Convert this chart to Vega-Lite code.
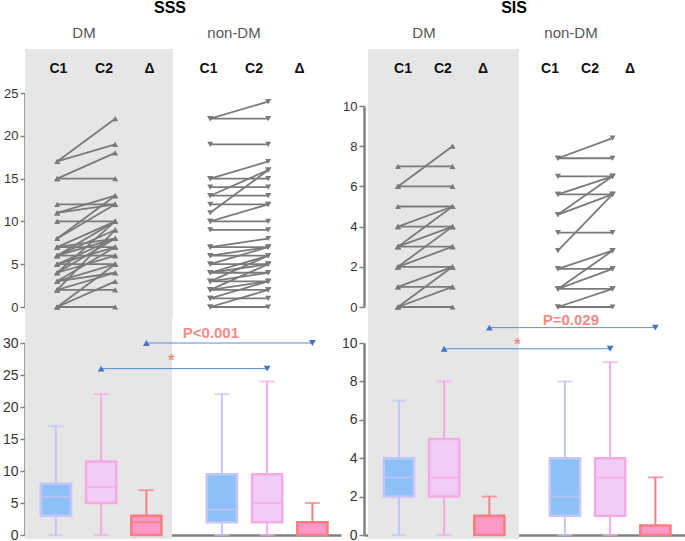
{
  "$schema": "https://vega.github.io/schema/vega-lite/v6.json",
  "padding": {"left": 2, "top": -1, "right": 0, "bottom": 0},
  "background": "white",
  "config": {
    "view": {"stroke": null},
    "axis": {"labelFont": "Liberation Sans", "labelColor": "#333333", "domainColor": "#808080", "domainWidth": 2.5, "tickColor": "#808080", "tickWidth": 1.5, "tickSize": 5, "labelPadding": 2, "grid": false, "title": null, "zindex": 1},
    "text": {"font": "Liberation Sans"}
  },
  "datasets": {
    "slope_sss": [
      {"group": "DM", "s": 1, "C1": 17, "C2": 22}, {"group": "DM", "s": 2, "C1": 17, "C2": 19}, {"group": "DM", "s": 3, "C1": 15, "C2": 18}, {"group": "DM", "s": 4, "C1": 15, "C2": 15},
      {"group": "DM", "s": 5, "C1": 12, "C2": 12}, {"group": "DM", "s": 6, "C1": 11, "C2": 13}, {"group": "DM", "s": 7, "C1": 11, "C2": 12}, {"group": "DM", "s": 8, "C1": 10, "C2": 10},
      {"group": "DM", "s": 9, "C1": 8, "C2": 13}, {"group": "DM", "s": 10, "C1": 8, "C2": 12}, {"group": "DM", "s": 11, "C1": 7, "C2": 10}, {"group": "DM", "s": 12, "C1": 7, "C2": 7},
      {"group": "DM", "s": 13, "C1": 7, "C2": 8}, {"group": "DM", "s": 14, "C1": 6, "C2": 10}, {"group": "DM", "s": 15, "C1": 6, "C2": 9}, {"group": "DM", "s": 16, "C1": 6, "C2": 6},
      {"group": "DM", "s": 17, "C1": 6, "C2": 8}, {"group": "DM", "s": 18, "C1": 5, "C2": 8}, {"group": "DM", "s": 19, "C1": 5, "C2": 7}, {"group": "DM", "s": 20, "C1": 5, "C2": 5},
      {"group": "DM", "s": 21, "C1": 4, "C2": 10}, {"group": "DM", "s": 22, "C1": 4, "C2": 8}, {"group": "DM", "s": 23, "C1": 4, "C2": 6}, {"group": "DM", "s": 24, "C1": 3, "C2": 7},
      {"group": "DM", "s": 25, "C1": 3, "C2": 5}, {"group": "DM", "s": 26, "C1": 3, "C2": 4}, {"group": "DM", "s": 27, "C1": 2, "C2": 9}, {"group": "DM", "s": 28, "C1": 2, "C2": 4},
      {"group": "DM", "s": 29, "C1": 2, "C2": 2}, {"group": "DM", "s": 30, "C1": 0, "C2": 5}, {"group": "DM", "s": 31, "C1": 0, "C2": 3}, {"group": "DM", "s": 32, "C1": 0, "C2": 0},
      {"group": "non-DM", "s": 41, "C1": 22, "C2": 24}, {"group": "non-DM", "s": 42, "C1": 22, "C2": 22}, {"group": "non-DM", "s": 43, "C1": 19, "C2": 19}, {"group": "non-DM", "s": 44, "C1": 15, "C2": 17},
      {"group": "non-DM", "s": 45, "C1": 15, "C2": 15}, {"group": "non-DM", "s": 46, "C1": 14, "C2": 14}, {"group": "non-DM", "s": 47, "C1": 13, "C2": 16}, {"group": "non-DM", "s": 48, "C1": 13, "C2": 13},
      {"group": "non-DM", "s": 49, "C1": 12, "C2": 12}, {"group": "non-DM", "s": 50, "C1": 11, "C2": 16}, {"group": "non-DM", "s": 51, "C1": 10, "C2": 12}, {"group": "non-DM", "s": 52, "C1": 10, "C2": 10},
      {"group": "non-DM", "s": 53, "C1": 9, "C2": 9}, {"group": "non-DM", "s": 54, "C1": 7, "C2": 8}, {"group": "non-DM", "s": 55, "C1": 7, "C2": 7}, {"group": "non-DM", "s": 56, "C1": 6, "C2": 7},
      {"group": "non-DM", "s": 57, "C1": 6, "C2": 6}, {"group": "non-DM", "s": 58, "C1": 5, "C2": 7}, {"group": "non-DM", "s": 59, "C1": 5, "C2": 5}, {"group": "non-DM", "s": 60, "C1": 4, "C2": 6},
      {"group": "non-DM", "s": 61, "C1": 4, "C2": 5}, {"group": "non-DM", "s": 62, "C1": 4, "C2": 4}, {"group": "non-DM", "s": 63, "C1": 3, "C2": 6}, {"group": "non-DM", "s": 64, "C1": 3, "C2": 4},
      {"group": "non-DM", "s": 65, "C1": 3, "C2": 3}, {"group": "non-DM", "s": 66, "C1": 2, "C2": 5}, {"group": "non-DM", "s": 67, "C1": 2, "C2": 3}, {"group": "non-DM", "s": 68, "C1": 2, "C2": 2},
      {"group": "non-DM", "s": 69, "C1": 1, "C2": 3}, {"group": "non-DM", "s": 70, "C1": 1, "C2": 1}, {"group": "non-DM", "s": 71, "C1": 0, "C2": 2}, {"group": "non-DM", "s": 72, "C1": 0, "C2": 0}
    ],
    "slope_sis": [
      {"group": "DM", "s": 1, "C1": 7, "C2": 7}, {"group": "DM", "s": 2, "C1": 6, "C2": 8}, {"group": "DM", "s": 3, "C1": 6, "C2": 6}, {"group": "DM", "s": 4, "C1": 5, "C2": 5},
      {"group": "DM", "s": 5, "C1": 4, "C2": 5}, {"group": "DM", "s": 6, "C1": 4, "C2": 4}, {"group": "DM", "s": 7, "C1": 3, "C2": 5}, {"group": "DM", "s": 8, "C1": 3, "C2": 4},
      {"group": "DM", "s": 9, "C1": 3, "C2": 3}, {"group": "DM", "s": 10, "C1": 2, "C2": 4}, {"group": "DM", "s": 11, "C1": 2, "C2": 3}, {"group": "DM", "s": 12, "C1": 2, "C2": 2},
      {"group": "DM", "s": 13, "C1": 1, "C2": 2}, {"group": "DM", "s": 14, "C1": 1, "C2": 1}, {"group": "DM", "s": 15, "C1": 0, "C2": 2}, {"group": "DM", "s": 16, "C1": 0, "C2": 1},
      {"group": "DM", "s": 17, "C1": 0, "C2": 0},
      {"group": "non-DM", "s": 41, "C1": 7.4, "C2": 8.4}, {"group": "non-DM", "s": 42, "C1": 7.4, "C2": 7.4}, {"group": "non-DM", "s": 43, "C1": 6.5, "C2": 6.5}, {"group": "non-DM", "s": 44, "C1": 5.6, "C2": 6.5},
      {"group": "non-DM", "s": 45, "C1": 5.6, "C2": 5.6}, {"group": "non-DM", "s": 46, "C1": 4.6, "C2": 6.5}, {"group": "non-DM", "s": 47, "C1": 4.6, "C2": 5.6}, {"group": "non-DM", "s": 48, "C1": 3.7, "C2": 3.7},
      {"group": "non-DM", "s": 49, "C1": 2.8, "C2": 5.6}, {"group": "non-DM", "s": 50, "C1": 1.9, "C2": 2.8}, {"group": "non-DM", "s": 51, "C1": 1.9, "C2": 1.9}, {"group": "non-DM", "s": 52, "C1": 0.9, "C2": 2.8},
      {"group": "non-DM", "s": 53, "C1": 0.9, "C2": 1.9}, {"group": "non-DM", "s": 54, "C1": 0.9, "C2": 0.9}, {"group": "non-DM", "s": 55, "C1": 0, "C2": 0.9}, {"group": "non-DM", "s": 56, "C1": 0, "C2": 0}
    ],
    "box_sss": [
      {"group": "DM", "time": "C1", "min": 0, "q1": 3, "median": 6, "q3": 8, "max": 17},
      {"group": "DM", "time": "C2", "min": 0, "q1": 5, "median": 7.5, "q3": 11.5, "max": 22},
      {"group": "DM", "time": "Δ", "min": 0, "q1": 0, "median": 2, "q3": 3, "max": 7},
      {"group": "non-DM", "time": "C1", "min": 0, "q1": 2, "median": 4, "q3": 9.5, "max": 22},
      {"group": "non-DM", "time": "C2", "min": 0, "q1": 2, "median": 5, "q3": 9.5, "max": 24},
      {"group": "non-DM", "time": "Δ", "min": 0, "q1": 0, "median": 0, "q3": 2, "max": 5}
    ],
    "box_sis": [
      {"group": "DM", "time": "C1", "min": 0, "q1": 2, "median": 3, "q3": 4, "max": 7},
      {"group": "DM", "time": "C2", "min": 0, "q1": 2, "median": 3, "q3": 5, "max": 8},
      {"group": "DM", "time": "Δ", "min": 0, "q1": 0, "median": 0, "q3": 1, "max": 2},
      {"group": "non-DM", "time": "C1", "min": 0, "q1": 1, "median": 2, "q3": 4, "max": 8},
      {"group": "non-DM", "time": "C2", "min": 0, "q1": 1, "median": 3, "q3": 4, "max": 9},
      {"group": "non-DM", "time": "Δ", "min": 0, "q1": 0, "median": 0, "q3": 0.5, "max": 3}
    ],
    "headers": [
      {"group": "DM", "time": "C1"}, {"group": "DM", "time": "C2"}, {"group": "DM", "time": "Δ"},
      {"group": "non-DM", "time": "C1"}, {"group": "non-DM", "time": "C2"}, {"group": "non-DM", "time": "Δ"}
    ],
    "groups": [{"group": "DM"}, {"group": "non-DM"}],
    "arrows": [
      {"cmp": "delta", "group": "DM", "time": "Δ"}, {"cmp": "delta", "group": "non-DM", "time": "Δ"},
      {"cmp": "c2", "group": "DM", "time": "C2"}, {"cmp": "c2", "group": "non-DM", "time": "C2"}
    ]
  },
  "spacing": 0,
  "hconcat": [
    {
      "bounds": "flush",
      "spacing": 36,
      "vconcat": [
        {
          "width": 316, "height": 214,
          "resolve": {"scale": {"x": "independent", "xOffset": "independent"}},
          "encoding": {"y": {"type": "quantitative", "scale": {"domain": [0, 25], "nice": false, "zero": false}}},
          "layer": [
            {
              "encoding": {"x": {"field": "group", "type": "nominal", "axis": null, "scale": {"type": "band", "domain": ["DM", "non-DM"], "paddingInner": 0.033, "paddingOuter": 0.049, "align": 0}}},
              "layer": [
                {"data": {"values": [{"group": "DM"}]}, "mark": {"type": "bar", "color": "#E6E6E6"},
                 "encoding": {"y": {"datum": -1.17, "type": "quantitative", "axis": {"values": [0, 5, 10, 15, 20, 25], "labelFontSize": 13}}, "y2": {"datum": 30.14}}},
                {"data": {"name": "slope_sss"}, "transform": [{"fold": ["C1", "C2"], "as": ["time", "value"]}],
                 "mark": {"type": "line", "color": "#7A7A7A", "strokeWidth": 1.8},
                 "encoding": {"xOffset": {"field": "time", "type": "nominal", "scale": {"type": "band", "domain": ["C1", "C2"], "paddingInner": 0, "paddingOuter": 0.276, "align": 0.1}}, "y": {"field": "value", "type": "quantitative"}, "detail": {"field": "s"}}},
                {"data": {"name": "slope_sss"}, "transform": [{"fold": ["C1", "C2"], "as": ["time", "value"]}],
                 "mark": {"type": "point", "filled": true, "color": "#7A7A7A", "opacity": 1, "size": 36},
                 "encoding": {"xOffset": {"field": "time", "type": "nominal"}, "y": {"field": "value", "type": "quantitative"},
                   "shape": {"field": "group", "type": "nominal", "scale": {"domain": ["DM", "non-DM"], "range": ["triangle-up", "triangle-down"]}, "legend": null}}},
                {"data": {"values": [{"t": "SSS"}]}, "mark": {"type": "text", "fontSize": 16, "fontWeight": "bold", "color": "#000000", "dx": -3},
                 "encoding": {"x": {"datum": "DM", "bandPosition": 1}, "y": {"datum": 34.93}, "text": {"field": "t"}}}
              ]
            },
            {
              "data": {"name": "headers"},
              "encoding": {"x": {"field": "group", "type": "nominal", "axis": null, "scale": {"type": "band", "domain": ["DM", "non-DM"], "paddingInner": 0.09, "paddingOuter": 0.098, "align": 0.364}}},
              "layer": [
                {"mark": {"type": "text", "fontSize": 14, "fontWeight": "bold", "color": "#111111"},
                 "encoding": {"xOffset": {"field": "time", "type": "nominal", "scale": {"type": "band", "domain": ["C1", "C2", "Δ"], "paddingInner": 0, "paddingOuter": 0}}, "y": {"datum": 27.8}, "text": {"field": "time"}}},
                {"data": {"name": "groups"}, "mark": {"type": "text", "fontSize": 15, "color": "#555555", "dx": -20},
                 "encoding": {"y": {"datum": 32.0}, "text": {"field": "group"}}}
              ]
            }
          ]
        },
        {
          "width": 316, "height": 192,
          "data": {"name": "box_sss"},
          "encoding": {
            "x": {"field": "group", "type": "nominal", "scale": {"type": "band", "domain": ["DM", "non-DM"], "paddingInner": 0.1145, "paddingOuter": 0.009, "align": 0}, "axis": {"labels": false, "ticks": false, "domainWidth": 2.5}},
            "y": {"type": "quantitative", "scale": {"domain": [0, 30], "nice": false, "zero": false}, "axis": {"values": [0, 5, 10, 15, 20, 25, 30], "labelFontSize": 14}}
          },
          "layer": [
            {"data": {"values": [{"group": "DM"}]}, "mark": {"type": "bar", "color": "#E6E6E6"},
             "encoding": {"y": {"datum": -0.625, "type": "quantitative"}, "y2": {"datum": 34.06}}},
            {"mark": {"type": "rule", "strokeWidth": 2},
             "encoding": {"xOffset": {"field": "time", "type": "nominal", "scale": {"type": "band", "domain": ["C1", "C2", "Δ"], "paddingInner": 0.3333, "paddingOuter": 0.291, "align": 0.6}},
               "y": {"field": "min", "type": "quantitative"}, "y2": {"field": "max"},
               "color": {"field": "time", "type": "nominal", "scale": {"domain": ["C1", "C2", "Δ"], "range": ["#C4C4F8", "#F5AAE6", "#F77E80"]}, "legend": null}}},
            {"mark": {"type": "tick", "thickness": 2, "size": 15},
             "encoding": {"xOffset": {"field": "time", "type": "nominal"}, "y": {"field": "max", "type": "quantitative"}, "color": {"field": "time", "type": "nominal", "legend": null}}},
            {"mark": {"type": "tick", "thickness": 2, "size": 15},
             "encoding": {"xOffset": {"field": "time", "type": "nominal"}, "y": {"field": "min", "type": "quantitative"}, "color": {"field": "time", "type": "nominal", "legend": null}}},
            {"mark": {"type": "bar", "strokeWidth": 2.5},
             "encoding": {"xOffset": {"field": "time", "type": "nominal"}, "y": {"field": "q1", "type": "quantitative"}, "y2": {"field": "q3"},
               "fill": {"field": "time", "type": "nominal", "scale": {"domain": ["C1", "C2", "Δ"], "range": ["#8EC0F8", "#F0CCF6", "#FA98C6"]}, "legend": null},
               "stroke": {"field": "time", "type": "nominal", "scale": {"domain": ["C1", "C2", "Δ"], "range": ["#C4C4F8", "#F5AAE6", "#F77E80"]}, "legend": null}}},
            {"mark": {"type": "tick", "thickness": 2, "size": 28},
             "encoding": {"xOffset": {"field": "time", "type": "nominal"}, "y": {"field": "median", "type": "quantitative"}, "color": {"field": "time", "type": "nominal", "legend": null}}},
            {"data": {"name": "arrows"}, "transform": [{"filter": "datum.cmp === 'delta'"}],
             "mark": {"type": "line", "color": "#5B8BD6", "strokeWidth": 1},
             "encoding": {"xOffset": {"field": "time", "type": "nominal"}, "y": {"datum": 30}}},
            {"data": {"name": "arrows"}, "transform": [{"filter": "datum.cmp === 'c2'"}],
             "mark": {"type": "line", "color": "#5B8BD6", "strokeWidth": 1},
             "encoding": {"xOffset": {"field": "time", "type": "nominal"}, "y": {"datum": 26}}},
            {"data": {"name": "arrows"}, "transform": [{"filter": "datum.cmp === 'delta'"}],
             "mark": {"type": "point", "filled": true, "color": "#4472C4", "opacity": 1, "size": 45},
             "encoding": {"xOffset": {"field": "time", "type": "nominal"}, "y": {"datum": 30},
               "shape": {"field": "group", "type": "nominal", "scale": {"domain": ["DM", "non-DM"], "range": ["triangle-left", "triangle-right"]}, "legend": null}}},
            {"data": {"name": "arrows"}, "transform": [{"filter": "datum.cmp === 'c2'"}],
             "mark": {"type": "point", "filled": true, "color": "#4472C4", "opacity": 1, "size": 45},
             "encoding": {"xOffset": {"field": "time", "type": "nominal"}, "y": {"datum": 26}, "shape": {"field": "group", "type": "nominal", "legend": null}}},
            {"data": {"values": [{"group": "non-DM", "time": "C1", "label": "P<0.001"}]},
             "mark": {"type": "text", "fontSize": 15, "fontWeight": "bold", "color": "#F48A8A", "dx": -11},
             "encoding": {"xOffset": {"field": "time", "type": "nominal"}, "y": {"datum": 31.6}, "text": {"field": "label"}}},
            {"data": {"values": [{"group": "DM", "time": "Δ", "label": "*"}]},
             "mark": {"type": "text", "fontSize": 16, "fontWeight": "bold", "color": "#F48A8A", "dx": 25, "dy": 4},
             "encoding": {"xOffset": {"field": "time", "type": "nominal"}, "y": {"datum": 27.8}, "text": {"field": "label"}}}
          ]
        }
      ]
    },
    {
      "bounds": "flush",
      "spacing": 36,
      "vconcat": [
        {
          "width": 322, "height": 214,
          "resolve": {"scale": {"x": "independent", "xOffset": "independent"}},
          "encoding": {"y": {"type": "quantitative", "scale": {"domain": [0, 10.647], "nice": false, "zero": false}}},
          "layer": [
            {
              "encoding": {"x": {"field": "group", "type": "nominal", "axis": null, "scale": {"type": "band", "domain": ["DM", "non-DM"], "paddingInner": 0.056, "paddingOuter": 0.0344, "align": 0.364}}},
              "layer": [
                {"data": {"values": [{"group": "DM"}]}, "mark": {"type": "bar", "color": "#E6E6E6"},
                 "encoding": {"y": {"datum": -0.4975, "type": "quantitative", "axis": {"values": [0, 2, 4, 6, 8, 10], "labelFontSize": 13, "domainDash": [201, 200]}}, "y2": {"datum": 12.836}}},
                {"data": {"name": "slope_sis"}, "transform": [{"fold": ["C1", "C2"], "as": ["time", "value"]}],
                 "mark": {"type": "line", "color": "#7A7A7A", "strokeWidth": 1.8},
                 "encoding": {"xOffset": {"field": "time", "type": "nominal", "scale": {"type": "band", "domain": ["C1", "C2"], "paddingInner": 0, "paddingOuter": 0.385, "align": 0.065}}, "y": {"field": "value", "type": "quantitative"}, "detail": {"field": "s"}}},
                {"data": {"name": "slope_sis"}, "transform": [{"fold": ["C1", "C2"], "as": ["time", "value"]}],
                 "mark": {"type": "point", "filled": true, "color": "#7A7A7A", "opacity": 1, "size": 36},
                 "encoding": {"xOffset": {"field": "time", "type": "nominal"}, "y": {"field": "value", "type": "quantitative"},
                   "shape": {"field": "group", "type": "nominal", "scale": {"domain": ["DM", "non-DM"], "range": ["triangle-up", "triangle-down"]}, "legend": null}}},
                {"data": {"values": [{"t": "SIS"}]}, "mark": {"type": "text", "fontSize": 16, "fontWeight": "bold", "color": "#000000", "dx": -5},
                 "encoding": {"x": {"datum": "DM", "bandPosition": 1}, "y": {"datum": 14.88}, "text": {"field": "t"}}}
              ]
            },
            {
              "data": {"name": "headers"},
              "encoding": {"x": {"field": "group", "type": "nominal", "axis": null, "scale": {"type": "band", "domain": ["DM", "non-DM"], "paddingInner": 0.184, "paddingOuter": 0.187, "align": 0.345}}},
              "layer": [
                {"mark": {"type": "text", "fontSize": 14, "fontWeight": "bold", "color": "#111111"},
                 "encoding": {"xOffset": {"field": "time", "type": "nominal", "scale": {"type": "band", "domain": ["C1", "C2", "Δ"], "paddingInner": 0, "paddingOuter": 0}}, "y": {"datum": 11.84}, "text": {"field": "time"}}},
                {"data": {"name": "groups"}, "mark": {"type": "text", "fontSize": 15, "color": "#555555", "dx": -19},
                 "encoding": {"y": {"datum": 13.63}, "text": {"field": "group"}}}
              ]
            }
          ]
        },
        {
          "width": 322, "height": 192,
          "data": {"name": "box_sis"},
          "encoding": {
            "x": {"field": "group", "type": "nominal", "scale": {"type": "band", "domain": ["DM", "non-DM"], "paddingInner": 0.0904, "paddingOuter": 0.015, "align": 0.8}, "axis": {"labels": false, "ticks": false, "domainWidth": 2.5}},
            "y": {"type": "quantitative", "scale": {"domain": [0, 10], "nice": false, "zero": false}, "axis": {"values": [0, 2, 4, 6, 8, 10], "labelFontSize": 14}}
          },
          "layer": [
            {"data": {"values": [{"group": "DM"}]}, "mark": {"type": "bar", "color": "#E6E6E6"},
             "encoding": {"y": {"datum": -0.208, "type": "quantitative"}, "y2": {"datum": 11.354}}},
            {"mark": {"type": "rule", "strokeWidth": 2},
             "encoding": {"xOffset": {"field": "time", "type": "nominal", "scale": {"type": "band", "domain": ["C1", "C2", "Δ"], "paddingInner": 0.3333, "paddingOuter": 0.344, "align": 0.45}},
               "y": {"field": "min", "type": "quantitative"}, "y2": {"field": "max"},
               "color": {"field": "time", "type": "nominal", "scale": {"domain": ["C1", "C2", "Δ"], "range": ["#C4C4F8", "#F5AAE6", "#F77E80"]}, "legend": null}}},
            {"mark": {"type": "tick", "thickness": 2, "size": 15},
             "encoding": {"xOffset": {"field": "time", "type": "nominal"}, "y": {"field": "max", "type": "quantitative"}, "color": {"field": "time", "type": "nominal", "legend": null}}},
            {"mark": {"type": "tick", "thickness": 2, "size": 15},
             "encoding": {"xOffset": {"field": "time", "type": "nominal"}, "y": {"field": "min", "type": "quantitative"}, "color": {"field": "time", "type": "nominal", "legend": null}}},
            {"mark": {"type": "bar", "strokeWidth": 2.5},
             "encoding": {"xOffset": {"field": "time", "type": "nominal"}, "y": {"field": "q1", "type": "quantitative"}, "y2": {"field": "q3"},
               "fill": {"field": "time", "type": "nominal", "scale": {"domain": ["C1", "C2", "Δ"], "range": ["#8EC0F8", "#F0CCF6", "#FA98C6"]}, "legend": null},
               "stroke": {"field": "time", "type": "nominal", "scale": {"domain": ["C1", "C2", "Δ"], "range": ["#C4C4F8", "#F5AAE6", "#F77E80"]}, "legend": null}}},
            {"mark": {"type": "tick", "thickness": 2, "size": 28},
             "encoding": {"xOffset": {"field": "time", "type": "nominal"}, "y": {"field": "median", "type": "quantitative"}, "color": {"field": "time", "type": "nominal", "legend": null}}},
            {"data": {"name": "arrows"}, "transform": [{"filter": "datum.cmp === 'delta'"}],
             "mark": {"type": "line", "color": "#5B8BD6", "strokeWidth": 1},
             "encoding": {"xOffset": {"field": "time", "type": "nominal"}, "y": {"datum": 10.8}}},
            {"data": {"name": "arrows"}, "transform": [{"filter": "datum.cmp === 'c2'"}],
             "mark": {"type": "line", "color": "#5B8BD6", "strokeWidth": 1},
             "encoding": {"xOffset": {"field": "time", "type": "nominal"}, "y": {"datum": 9.7}}},
            {"data": {"name": "arrows"}, "transform": [{"filter": "datum.cmp === 'delta'"}],
             "mark": {"type": "point", "filled": true, "color": "#4472C4", "opacity": 1, "size": 45},
             "encoding": {"xOffset": {"field": "time", "type": "nominal"}, "y": {"datum": 10.8},
               "shape": {"field": "group", "type": "nominal", "scale": {"domain": ["DM", "non-DM"], "range": ["triangle-left", "triangle-right"]}, "legend": null}}},
            {"data": {"name": "arrows"}, "transform": [{"filter": "datum.cmp === 'c2'"}],
             "mark": {"type": "point", "filled": true, "color": "#4472C4", "opacity": 1, "size": 45},
             "encoding": {"xOffset": {"field": "time", "type": "nominal"}, "y": {"datum": 9.7}, "shape": {"field": "group", "type": "nominal", "legend": null}}},
            {"data": {"values": [{"group": "non-DM", "time": "C1", "label": "P=0.029"}]},
             "mark": {"type": "text", "fontSize": 15, "fontWeight": "bold", "color": "#F48A8A", "dx": 6},
             "encoding": {"xOffset": {"field": "time", "type": "nominal"}, "y": {"datum": 11.2}, "text": {"field": "label"}}},
            {"data": {"values": [{"group": "DM", "time": "Δ", "label": "*"}]},
             "mark": {"type": "text", "fontSize": 16, "fontWeight": "bold", "color": "#F48A8A", "dx": 28, "dy": 4},
             "encoding": {"xOffset": {"field": "time", "type": "nominal"}, "y": {"datum": 10.1}, "text": {"field": "label"}}}
          ]
        }
      ]
    }
  ]
}
